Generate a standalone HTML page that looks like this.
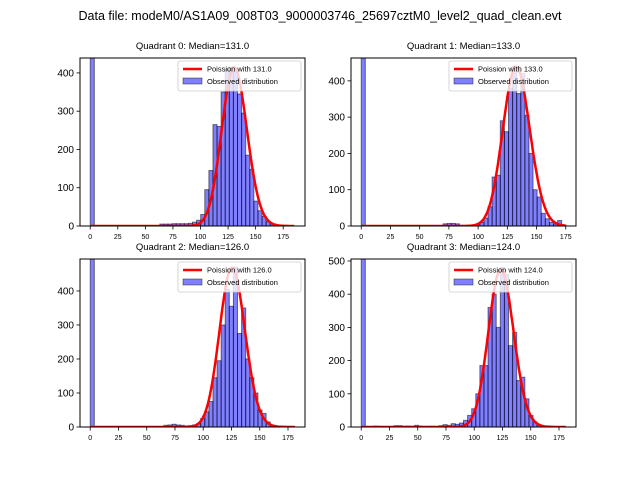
<!DOCTYPE html>
<html><head><meta charset="utf-8"><style>
body{margin:0;background:#fff}
svg{display:block;font-family:"Liberation Sans","DejaVu Sans",sans-serif}
</style></head><body>
<svg id="fig" width="640" height="480" viewBox="0 0 640 480">
<rect width="640" height="480" fill="#fff"/>
<text x="320" y="20" font-size="12.5" text-anchor="middle">Data file: modeM0/AS1A09_008T03_9000003746_25697cztM0_level2_quad_clean.evt</text>
</svg>
<script>
// data per quadrant
const quadNames = ["Quadrant 0","Quadrant 1","Quadrant 2","Quadrant 3"];
const medians = [131.0,133.0,126.0,124.0];
const binWidths = [3.71,3.5,3.62,3.62];
const curveScales = [11900,12700,13200,13250];
const yMaxes = [439,463,494,506];
const yTicks0 = [0,100,200,300,400];
const yTicks1 = [0,100,200,300,400];
const yTicks2 = [0,100,200,300,400];
const yTicks3 = [0,100,200,300,400,500];
const xTickLabels = [0,25,50,75,100,125,150,175];
const counts0 = [1000,0,0,0,0,0,0,0,0,0,0,0,0,0,0,0,0,5,5,5,6,6,6,6,7,10,15,30,95,145,265,260,350,410,415,405,345,295,185,148,65,40,25,12,5,2,1,0,0,0];
const counts1 = [1000,0,0,0,0,0,0,0,0,0,0,0,0,0,0,0,0,0,0,0,6,7,7,6,2,1,2,3,5,10,22,53,135,140,290,260,380,440,365,420,305,200,100,80,35,20,10,5,15,3];
const counts2 = [1000,0,0,0,0,0,0,0,0,0,0,0,0,0,0,0,0,0,5,6,8,6,5,3,4,6,10,25,45,75,145,195,300,405,355,470,275,350,200,145,100,50,40,15,5,2,1,0,0,0];
const counts3 = [1000,0,0,3,2,0,0,0,4,4,2,3,0,5,3,0,2,2,0,4,7,5,10,8,12,20,35,55,100,185,185,360,400,300,480,460,245,285,140,150,85,35,15,5,2,1,0,0,0,0];
const allCounts = [counts0,counts1,counts2,counts3];
const allYTicks = [yTicks0,yTicks1,yTicks2,yTicks3];

const NS="http://www.w3.org/2000/svg";
const svg=document.getElementById('fig');
function mk(tag,attrs,parent){const e=document.createElementNS(NS,tag);for(const k in attrs)e.setAttribute(k,attrs[k]);(parent||svg).appendChild(e);return e;}
const boxes=[[80,58,305,226],[351,58,576,226],[80,259,305,427],[351,259,576,427]];
function lgamma(n){let s=0;for(let k=2;k<=n;k++)s+=Math.log(k);return s;}

for(let q=0;q<4;q++){
  const [L,T,R,B]=boxes[q];
  const counts=allCounts[q], bw=binWidths[q];
  const dmax=bw*counts.length;
  const xmin=-0.05*dmax, xmax=dmax*1.05;
  const X=v=>L+(v-xmin)/(xmax-xmin)*(R-L);
  const Y=v=>B-v/yMaxes[q]*(B-T);
  const g=mk('g',{});
  
  
  mk('clipPath',{id:'c'+q},g);
  mk('rect',{x:L,y:T,width:R-L,height:B-T},g.lastChild);
  const bars=mk('g',{'clip-path':'url(#c'+q+')'},g);
  counts.forEach((c,i)=>{
    if(c<=0)return;
    const r=mk('rect',{x:X(i*bw),y:Y(Math.min(c,yMaxes[q]*1.1)),width:X((i+1)*bw)-X(i*bw),height:B-Y(Math.min(c,yMaxes[q]*1.1)),fill:'rgba(0,0,255,0.5)',stroke:'rgba(0,0,0,0.5)','stroke-width':1},bars);
    
    
  });
  const lam=medians[q];let pts=[];
  for(let k=0;k<=Math.floor(dmax);k++){const p=Math.exp(k*Math.log(lam)-lam-lgamma(k));pts.push(X(k).toFixed(1)+','+Y(p*curveScales[q]).toFixed(1));}
  const pl=mk('polyline',{points:pts.join(' '),fill:'none',stroke:'#f00','stroke-width':2.5},bars);
  
  
  mk('rect',{x:L,y:T,width:R-L,height:B-T,fill:'none',stroke:'#000','stroke-width':1},g);
  xTickLabels.forEach(t=>{
    if(t>dmax)return;
    mk('line',{x1:X(t),x2:X(t),y1:B,y2:B+3.5,stroke:'#000','stroke-width':0.8},g);
    const tx=mk('text',{x:X(t),y:B+13,'font-size':7,'text-anchor':'middle'},g);tx.textContent=t;
    
    
  });
  allYTicks[q].forEach(t=>{
    mk('line',{x1:L-3.5,x2:L,y1:Y(t),y2:Y(t),stroke:'#000','stroke-width':0.8},g);
    const tx=mk('text',{x:L-6,y:Y(t)+3.5,'font-size':10,'text-anchor':'end'},g);tx.textContent=t;
    
    
  });
  const ti=mk('text',{x:(L+R)/2,y:T-9,'font-size':9.5,'text-anchor':'middle'},g);
  ti.textContent=quadNames[q]+': Median='+medians[q].toFixed(1);
  
  
  const lg=mk('g',{},g);
  
  
  const lx=R-127,ly=T+3;
  mk('rect',{x:lx,y:ly,width:123,height:30,fill:'rgba(255,255,255,0.8)',stroke:'#ccc','stroke-width':0.8,rx:2},lg);
  mk('line',{x1:lx+5,x2:lx+24,y1:ly+8,y2:ly+8,stroke:'#f00','stroke-width':2.5},lg);
  const t1=mk('text',{x:lx+29,y:ly+10.5,'font-size':7.5},lg);t1.textContent='Poission with '+medians[q].toFixed(1);
  mk('rect',{x:lx+5,y:ly+17,width:19,height:6,fill:'rgba(0,0,255,0.5)',stroke:'rgba(0,0,0,0.5)','stroke-width':0.8},lg);
  const t2=mk('text',{x:lx+29,y:ly+23,'font-size':7.5},lg);t2.textContent='Observed distribution';
}
</script>
</body></html>
